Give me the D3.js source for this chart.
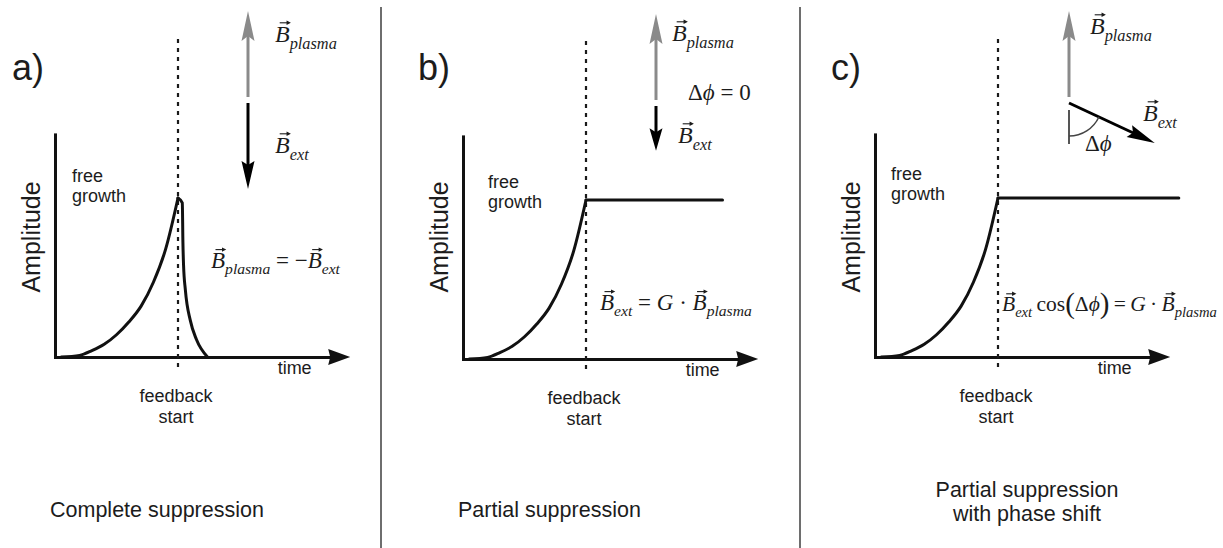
<!DOCTYPE html>
<html>
<head>
<meta charset="utf-8">
<script src="https://cdn.jsdelivr.net/npm/d3@7"></script>
<style>
  body { margin: 0; background: #fff; }
  svg { display: block; }
  .sans { font-family: "Liberation Sans", Arial, Helvetica, sans-serif; fill: #1c1c1c; }
  .math { font-family: "Liberation Serif", "Times New Roman", serif; fill: #1c1c1c; }
</style>
</head>
<body>
<svg id="chart" width="1223" height="548"></svg>
<script>
// ---- data -------------------------------------------------------------
// Free growth of the mode amplitude; time is measured in units of the feedback start.
const growthTime = [0.05, 0.2, 0.3, 0.4, 0.5, 0.6, 0.7, 0.8, 0.9, 1.0];
const growthAmp  = [0, 0.01, 0.04, 0.08, 0.14, 0.22, 0.32, 0.47, 0.68, 1.0];
// Decay once the external field fully cancels the plasma field.
const decayTime = [1.0, 1.035, 1.04, 1.045, 1.06, 1.10, 1.15, 1.24];
const decayAmp  = [1.0, 0.97, 0.72, 0.58, 0.42, 0.23, 0.11, 0];
// Saturated amplitude held by feedback (null: no plateau).
const plateauAmp = [null, 1.0, 1.0];
const plateauEnd = [null, 2.11, 2.47];
const feedbackStart = 1.0;
const timeMax = 2.4, ampMax = 1.4;
const axisTicks = [];                     // schematic axes carry no tick marks

const panelLetters = ["a)", "b)", "c)"];
const panelTitles = [["Complete suppression"], ["Partial suppression"], ["Partial suppression", "with phase shift"]];
const plasmaField = [1, 1, 1];            // relative |B_plasma|
const extField = [1, 0.52, 1.1];          // relative |B_ext|
const phaseShiftDeg = [0, 0, 65];         // angle of B_ext from anti-parallel

// ---- layout -----------------------------------------------------------
const layout = [
  { ox: 55,  oy: 357, vx: 248,  vy: 100, letterX: 12,  freeX: 72,  freeY: 182, titleX: 50,  titleAnchor: "start",
    plasmaLbl: [275, 42], extLbl: [275, 153], formula: [211, 268], formulaSize: 23 },
  { ox: 463, oy: 359, vx: 656,  vy: 103, letterX: 418, freeX: 488, freeY: 188, titleX: 458, titleAnchor: "start",
    plasmaLbl: [672, 41], extLbl: [678, 143], formula: [600, 310], formulaSize: 23, phaseLbl: [688, 100] },
  { ox: 875, oy: 357, vx: 1069, vy: 100, letterX: 831, freeX: 891, freeY: 180, titleX: 1027, titleAnchor: "middle",
    plasmaLbl: [1090, 34], extLbl: [1143, 121], formula: [1002, 311], formulaSize: 21.5, phaseLbl: [1085, 151] }
];
const unitX = 123, unitY = 159;
const PHI = "\u03d5";

const formulas = [
  [["B", "vec"], ["plasma", "sub"], [" = \u2212", "op"], ["B", "vec"], ["ext", "sub"]],
  [["B", "vec"], ["ext", "sub"], [" = ", "op"], ["G", "it"], [" \u00b7 ", "op"], ["B", "vec"], ["plasma", "sub"]],
  [["B", "vec"], ["ext", "sub"], ["\u2009cos", "op"], ["(", "paren"], ["\u0394", "op"], [PHI, "it"], [")", "paren"],
   ["\u2009=\u2009", "op"], ["G", "it"], ["\u2009\u00b7\u2009", "op"], ["B", "vec"], ["plasma", "sub"]]
];

const svg = d3.select("#chart");

// ---- helpers ----------------------------------------------------------
function arrow(g, x0, y0, x1, y1, color, width, headLen, headW, notch) {
  const a = Math.atan2(y1 - y0, x1 - x0);
  const ux = Math.cos(a), uy = Math.sin(a), px = -uy, py = ux;
  const bx = x1 - ux * headLen, by = y1 - uy * headLen;
  const nx = bx + ux * notch, ny = by + uy * notch;
  g.append("line").attr("x1", x0).attr("y1", y0).attr("x2", nx + ux * 1).attr("y2", ny + uy * 1)
    .attr("stroke", color).attr("stroke-width", width);
  const p = d3.path();
  p.moveTo(x1, y1);
  p.lineTo(bx + px * headW / 2, by + py * headW / 2);
  p.lineTo(nx, ny);
  p.lineTo(bx - px * headW / 2, by - py * headW / 2);
  p.closePath();
  g.append("path").attr("d", p.toString()).attr("fill", color);
}

// math expression in Times-style type; "vec" letters get a small arrow on top
function mathText(g, x, y, parts, size) {
  const t = g.append("text").attr("class", "math").attr("x", x).attr("y", y)
    .style("font-size", size + "px");
  let shift = 0, idx = 0;
  const vecIdx = [];
  parts.forEach(([s, kind]) => {
    let target = 0, fs = size, italic = false;
    if (kind === "vec" || kind === "it") italic = true;
    if (kind === "sub") { italic = true; fs = size * 0.68; target = size * 0.28; }
    if (kind === "paren") { fs = size * 1.35; target = size * 0.07; }
    const sp = t.append("tspan").text(s).style("font-size", fs + "px")
      .style("font-style", italic ? "italic" : "normal");
    if (target !== shift) { sp.attr("dy", target - shift); shift = target; }
    if (kind === "vec") vecIdx.push(idx);
    idx += s.length;
  });
  const node = t.node();
  vecIdx.forEach(i => {
    const e = node.getExtentOfChar(i);
    const ay = y - size * 0.8;
    const xa = e.x + e.width * 0.32, xb = e.x + e.width * 0.98;
    g.append("line").attr("x1", xa).attr("y1", ay).attr("x2", xb - 1).attr("y2", ay)
      .attr("stroke", "#1c1c1c").attr("stroke-width", 1.1);
    g.append("path")
      .attr("d", `M${xb + 1.5},${ay} L${xb - 2.8},${ay - 2.2} L${xb - 2.8},${ay + 2.2} Z`)
      .attr("fill", "#1c1c1c");
  });
  return t;
}

// ---- dividers between the three sketches ------------------------------
[381, 800].forEach(x => {
  svg.append("line").attr("x1", x).attr("x2", x).attr("y1", 7).attr("y2", 548)
    .attr("stroke", "#6e6e6e").attr("stroke-width", 2);
});

const vScale = d3.scaleLinear().domain([0, 1]).range([0, 86]);
const growth = growthTime.map((t, i) => [t, growthAmp[i]]);
const decay = decayTime.map((t, i) => [t, decayAmp[i]]);

layout.forEach((L, k) => {
  const g = svg.append("g");
  const x = d3.scaleLinear().domain([0, timeMax]).range([L.ox, L.ox + timeMax * unitX]);
  const y = d3.scaleLinear().domain([0, ampMax]).range([L.oy, L.oy - ampMax * unitY]);

  // axes (plain lines, arrow on time axis)
  const xAxisScale = x.copy().domain([0, timeMax - 0.12]).range([x(0), x(timeMax - 0.12)]);
  const ax = g.append("g").attr("transform", `translate(0,${L.oy})`)
    .call(d3.axisBottom(xAxisScale).tickValues(axisTicks).tickSizeOuter(0));
  const ay = g.append("g").attr("transform", `translate(${L.ox},0)`)
    .call(d3.axisLeft(y).tickValues(axisTicks).tickSizeOuter(0));
  [ax, ay].forEach(a => a.select(".domain").attr("stroke", "#111").attr("stroke-width", 3)
    .attr("stroke-linecap", "square"));
  const tip = x(timeMax);
  g.append("path")
    .attr("d", `M${tip},${L.oy} L${tip - 22},${L.oy - 8} L${tip - 20},${L.oy} L${tip - 22},${L.oy + 8} Z`)
    .attr("fill", "#111");

  // feedback start marker
  g.append("line").attr("x1", x(feedbackStart)).attr("x2", x(feedbackStart))
    .attr("y1", y(2.0)).attr("y2", y(-0.07))
    .attr("stroke", "#1a1a1a").attr("stroke-width", 2.2).attr("stroke-dasharray", "4,5");

  // amplitude trace
  const line = d3.line().x(d => x(d[0])).y(d => y(d[1])).curve(d3.curveMonotoneX);
  const traceStyle = sel => sel.attr("fill", "none").attr("stroke", "#111").attr("stroke-width", 3)
    .attr("stroke-linecap", "round").attr("stroke-linejoin", "round");
  g.append("path").attr("d", line(growth)).call(traceStyle);
  if (k === 0) {
    g.append("path").attr("d", line(decay)).call(traceStyle);
  } else {
    g.append("path").attr("d", d3.line().x(d => x(d[0])).y(d => y(d[1]))(
      [[feedbackStart, plateauAmp[k]], [plateauEnd[k], plateauAmp[k]]])).call(traceStyle);
  }

  // texts
  g.append("text").attr("class", "sans").attr("x", L.letterX).attr("y", 80)
    .style("font-size", "36px").text(panelLetters[k]);
  g.append("text").attr("class", "sans")
    .attr("transform", `translate(${L.ox - 15},237) rotate(-90)`).attr("text-anchor", "middle")
    .style("font-size", "25px").text("Amplitude");
  const fg = g.append("text").attr("class", "sans").attr("x", L.freeX).attr("y", L.freeY)
    .style("font-size", "18px");
  fg.append("tspan").text("free");
  fg.append("tspan").attr("x", L.freeX).attr("dy", 20).text("growth");
  g.append("text").attr("class", "sans").attr("x", x(1.81)).attr("y", L.oy + 17)
    .style("font-size", "18px").text("time");
  const fb = g.append("text").attr("class", "sans").attr("text-anchor", "middle")
    .attr("x", x(feedbackStart) - 2).attr("y", L.oy + 45).style("font-size", "18px");
  fb.append("tspan").text("feedback");
  fb.append("tspan").attr("x", x(feedbackStart) - 2).attr("dy", 21).text("start");
  const tt = g.append("text").attr("class", "sans").attr("text-anchor", L.titleAnchor)
    .attr("x", L.titleX).attr("y", panelTitles[k].length > 1 ? 497 : 517).style("font-size", "21.5px");
  panelTitles[k].forEach((s, i) => tt.append("tspan").attr("x", L.titleX).attr("dy", i ? 24 : 0).text(s));

  // field vectors
  const gray = "#8a8a8a";
  arrow(g, L.vx, L.vy - 3, L.vx, L.vy - 3 - vScale(plasmaField[k]), gray, 3, 30, 13, 5);
  const phi = phaseShiftDeg[k] * Math.PI / 180;
  const len = vScale(extField[k]);
  const ex = L.vx + len * Math.sin(phi), ey = L.vy + 3 + len * Math.cos(phi);
  arrow(g, L.vx, L.vy + 3, ex, ey, "#000", 3, Math.min(28, len * 0.5), 13, 4);

  if (phaseShiftDeg[k] > 0) {
    g.append("line").attr("x1", L.vx).attr("x2", L.vx).attr("y1", L.vy + 10).attr("y2", L.vy + 44)
      .attr("stroke", "#555").attr("stroke-width", 2);
    const r = 33, cx = L.vx, cy = L.vy + 3;
    const a0 = Math.PI / 2 - phi, a1 = Math.PI / 2;
    const p = d3.path();
    p.moveTo(cx + r * Math.cos(a0), cy + r * Math.sin(a0));
    p.arc(cx, cy, r, a0, a1);
    g.append("path").attr("d", p.toString()).attr("fill", "none").attr("stroke", "#444").attr("stroke-width", 1.5);
  }

  mathText(g, L.plasmaLbl[0], L.plasmaLbl[1], [["B", "vec"], ["plasma", "sub"]], 24);
  mathText(g, L.extLbl[0], L.extLbl[1], [["B", "vec"], ["ext", "sub"]], 24);
  if (k === 1) mathText(g, L.phaseLbl[0], L.phaseLbl[1], [["\u0394", "op"], [PHI, "it"], [" = 0", "op"]], 23);
  if (k === 2) mathText(g, L.phaseLbl[0], L.phaseLbl[1], [["\u0394", "op"], [PHI, "it"]], 23);
  mathText(g, L.formula[0], L.formula[1], formulas[k], L.formulaSize);
});
</script>
</body>
</html>
